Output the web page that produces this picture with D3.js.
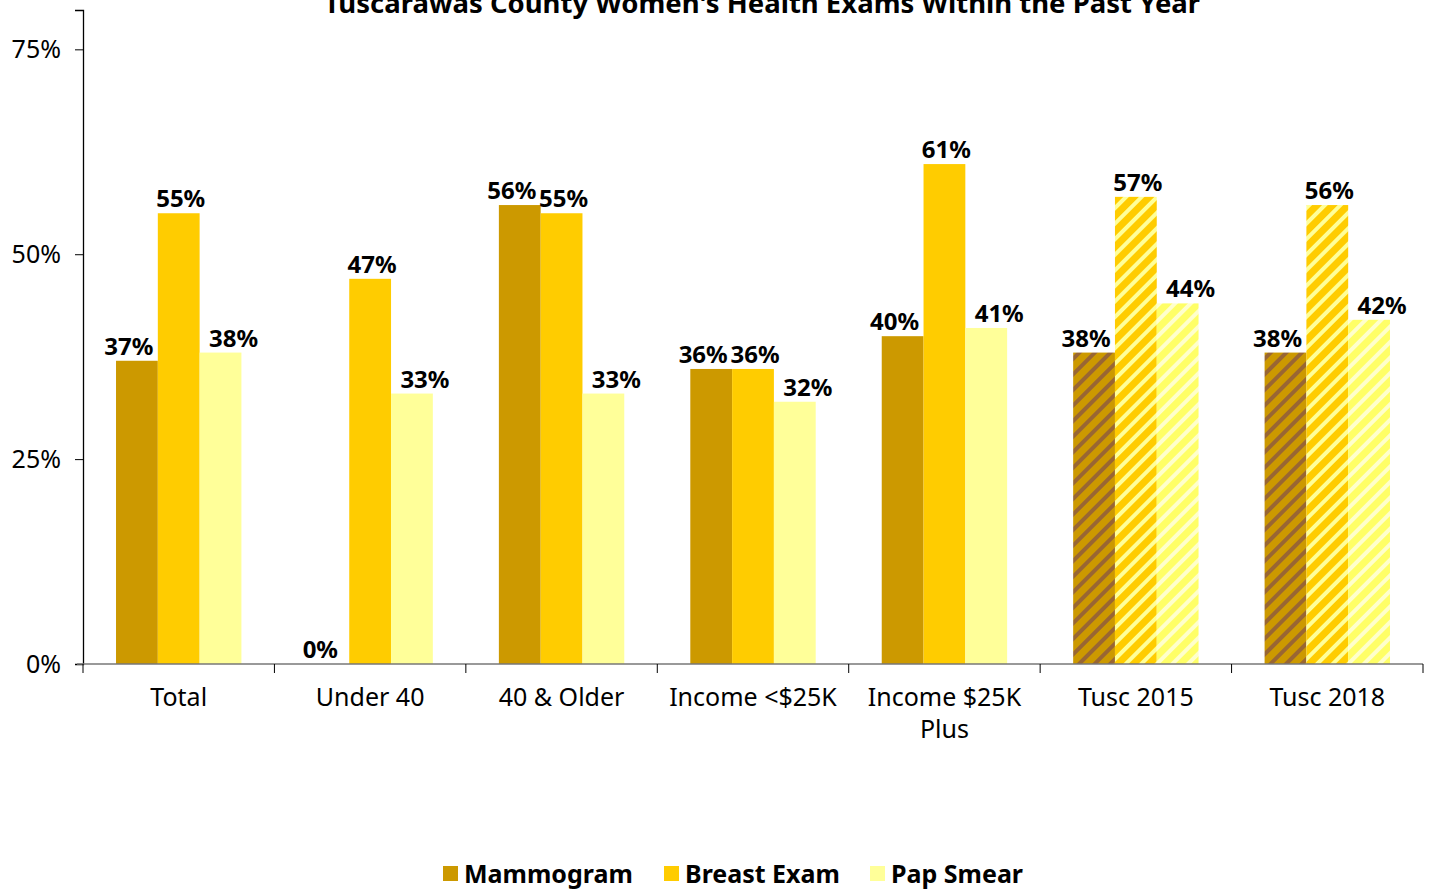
<!DOCTYPE html>
<html><head><meta charset="utf-8">
<script src="https://cdn.jsdelivr.net/npm/d3@7"></script>
<style>body{margin:0;background:#fff;} svg{display:block;font-family:"Noto Sans","Open Sans",sans-serif;}</style>
</head><body><svg id="c" width="1430" height="890"></svg>
<script>
const categories = ["Total","Under 40","40 & Older","Income <$25K","Income $25K|Plus","Tusc 2015","Tusc 2018"];
const hatchedCats = ["Tusc 2015","Tusc 2018"];
const seriesNames = ["Mammogram","Breast Exam","Pap Smear"];
const mammogram = [37,0,56,36,40,38,38];
const breastExam = [55,47,55,36,61,57,56];
const papSmear = [38,33,33,32,41,44,42];
const yTicks = [0,25,50,75];
const colors = ["#CC9900","#FFCC00","#FFFF99"];
const hatchBase = ["#CC9900","#FFCC00","#FFFF66"];
const hatchStripe = ["#996633","#FFFF99","#FFFFCC"];
const labelShift = [-8, 2, 13];

const svg = d3.select("#c");
const series = [mammogram, breastExam, papSmear];
const x0 = d3.scaleBand().domain(categories).range([83,1423]).paddingInner(0).paddingOuter(0);
const x1 = d3.scaleBand().domain(seriesNames).range([0,x0.bandwidth()]).paddingInner(0).paddingOuter(0.79);
const y = d3.scaleLinear().domain([0,79.8]).range([664,10]);

const defs = svg.append("defs");
seriesNames.forEach((s,i)=>{
  const p = defs.append("pattern").attr("id","h"+i).attr("patternUnits","userSpaceOnUse")
    .attr("width",11).attr("height",11).attr("patternTransform","rotate(45)");
  p.append("rect").attr("width",11).attr("height",11).attr("fill",hatchBase[i]);
  p.append("rect").attr("width",4).attr("height",11).attr("fill",hatchStripe[i]);
});

// title
svg.append("text").attr("x",762).attr("y",13).attr("text-anchor","middle")
  .attr("font-weight","bold").attr("font-size",27.5).text("Tuscarawas County Women's Health Exams Within the Past Year");

// bars
categories.forEach((c,ci)=>{
  const g = svg.append("g").attr("transform",`translate(${x0(c)},0)`);
  series.forEach((arr,si)=>{
    const v = arr[ci];
    const hatched = hatchedCats.includes(c);
    g.append("rect").attr("x",x1(seriesNames[si])).attr("width",x1.bandwidth())
      .attr("y",y(v)).attr("height",y(0)-y(v))
      .attr("fill",hatched?`url(#h${si})`:colors[si]);
  });
});
// labels
categories.forEach((c,ci)=>{
  series.forEach((arr,si)=>{
    const v = arr[ci];
    svg.append("text").attr("x",x0(c)+x1(seriesNames[si])+x1.bandwidth()/2+labelShift[si])
      .attr("y",y(v)-6).attr("text-anchor","middle").attr("font-weight","bold")
      .attr("font-size",24).attr("fill","#000").text(v+"%");
  });
});

// y axis
const ya = svg.append("g").attr("transform","translate(83,0)")
  .call(d3.axisLeft(y).tickValues(yTicks).tickFormat(d=>d+"%").tickSize(8).tickPadding(14));
ya.select(".domain").attr("stroke","#000").attr("stroke-width",1.3);
ya.selectAll(".tick line").attr("stroke","#000");
ya.selectAll(".tick text").attr("font-size",25).attr("fill","#000").attr("font-family","\"Noto Sans\",sans-serif");

// x axis
const xa = svg.append("g").attr("transform","translate(0,664)");
xa.append("line").attr("x1",77).attr("x2",1423).attr("stroke","#777").attr("stroke-width",1.5);
const bounds = categories.map(c=>x0(c)).concat([x0(categories[categories.length-1])+x0.bandwidth()]);
bounds.forEach(b=>xa.append("line").attr("x1",b).attr("x2",b).attr("y1",0).attr("y2",9).attr("stroke","#000"));
categories.forEach(c=>{
  const lines = c.split("|");
  const t = xa.append("text").attr("x",x0(c)+x0.bandwidth()/2).attr("y",42)
    .attr("text-anchor","middle").attr("font-size",25).attr("fill","#000");
  lines.forEach((l,i)=>t.append("tspan").attr("x",x0(c)+x0.bandwidth()/2).attr("dy",i?32:0).text(l));
});

// legend
const legX = [443,664,870];
seriesNames.forEach((s,i)=>{
  svg.append("rect").attr("x",legX[i]).attr("y",866).attr("width",15).attr("height",15).attr("fill",colors[i]);
  svg.append("text").attr("x",legX[i]+21).attr("y",883).attr("font-weight","bold").attr("font-size",25).text(s);
});
</script></body></html>
